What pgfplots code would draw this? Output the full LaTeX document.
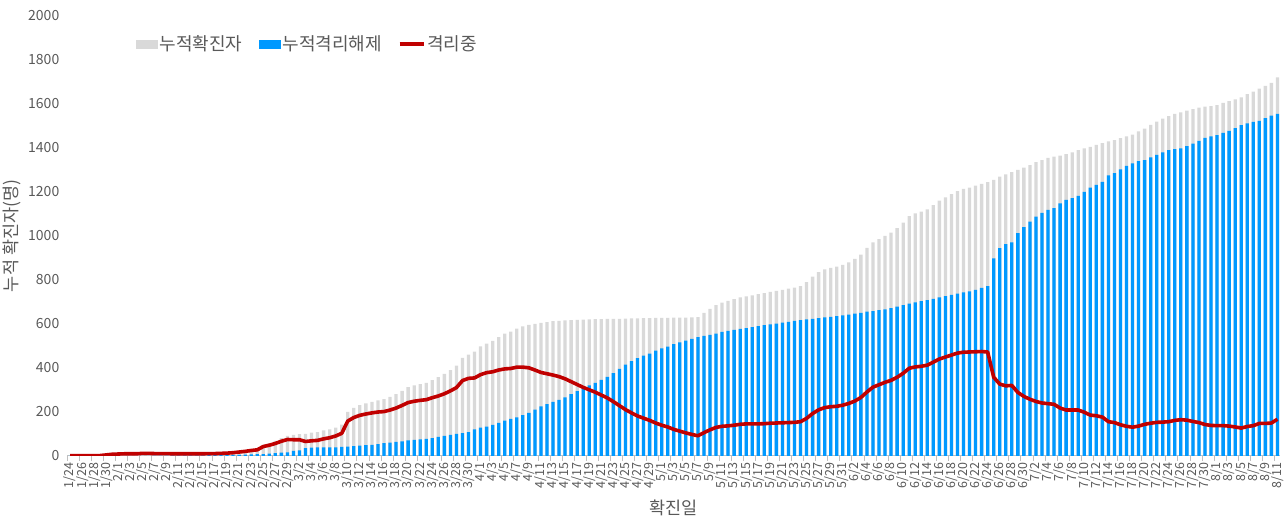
\documentclass[border=0pt]{standalone}
\usepackage{fontspec}
\setmainfont{Noto Sans CJK KR}
\usepackage{pgfplots}
\usepackage{pgfplotstable}
\pgfplotsset{compat=1.18}

\definecolor{cumgray}{HTML}{D9D9D9}
\definecolor{relblue}{HTML}{0099FF}
\definecolor{isored}{HTML}{C00000}
\definecolor{txtgray}{HTML}{595959}
\definecolor{axgray}{HTML}{BFBFBF}

% i = day index from 1/24, C = cumulative confirmed, R = cumulative released, Q = in isolation
\pgfplotstableread{
i C R Q
0 1 0 1
1 1 0 1
2 1 0 1
3 1 0 1
4 1 0 1
5 1 0 1
6 4 0 4
7 7 0 7
8 8 0 8
9 9 0 9
10 9 0 9
11 9 0 9
12 11 0 11
13 11 0 11
14 11 1 10
15 11 1 10
16 11 1 10
17 11 2 9
18 11 2 9
19 11 2 9
20 11 2 9
21 11 2 9
22 11 2 9
23 13 3 10
24 13 3 10
25 14 3 11
26 15 3 12
27 18 4 14
28 21 4 17
29 25 5 20
30 30 6 24
31 35 8 27
32 50 8 42
33 58 10 48
34 68 12 56
35 80 14 66
36 90 16 74
37 95 22 73
38 98 25 73
39 100 35 65
40 105 37 68
41 108 38 70
42 115 38 77
43 120 38 82
44 128 38 90
45 142 40 102
46 200 42 158
47 218 44 174
48 230 46 184
49 238 48 190
50 245 50 195
51 252 53 199
52 258 57 201
53 268 60 208
54 280 63 217
55 295 66 229
56 312 70 242
57 320 72 248
58 326 74 252
59 332 77 255
60 344 80 264
61 358 86 272
62 372 90 282
63 390 95 295
64 410 100 310
65 445 103 342
66 460 108 352
67 474 120 354
68 497 128 369
69 510 132 378
70 522 140 382
71 540 150 390
72 555 160 395
73 565 168 397
74 578 175 403
75 588 185 403
76 595 195 400
77 600 210 390
78 604 225 379
79 608 235 373
80 612 245 367
81 614 254 360
82 616 266 350
83 617 280 337
84 618 294 324
85 619 308 311
86 620 320 300
87 621 332 289
88 621 345 276
89 622 359 263
90 622 376 246
91 623 395 228
92 624 414 210
93 625 430 195
94 625 444 181
95 626 455 171
96 626 465 161
97 627 478 149
98 627 488 139
99 627 496 131
100 628 508 120
101 628 516 112
102 628 524 104
103 629 532 97
104 631 540 91
105 650 545 105
106 668 550 118
107 685 556 129
108 697 563 134
109 704 568 136
110 712 573 139
111 720 577 143
112 725 580 145
113 730 585 145
114 735 590 145
115 740 594 146
116 745 597 148
117 750 601 149
118 755 605 150
119 760 609 151
120 765 613 152
121 772 617 155
122 790 620 170
123 815 623 192
124 835 626 209
125 848 629 219
126 855 632 223
127 860 635 225
128 868 638 230
129 880 642 238
130 895 646 249
131 915 650 265
132 945 655 290
133 970 658 312
134 985 662 323
135 1000 666 334
136 1015 672 343
137 1035 678 357
138 1060 685 375
139 1090 692 398
140 1102 698 404
141 1110 703 407
142 1120 708 412
143 1140 714 426
144 1160 720 440
145 1175 726 449
146 1190 732 458
147 1204 737 467
148 1214 743 471
149 1220 748 472
150 1228 755 473
151 1237 763 474
152 1244 772 472
153 1255 898 357
154 1270 944 326
155 1280 962 318
156 1290 970 320
157 1300 1012 288
158 1310 1040 270
159 1322 1065 257
160 1335 1088 247
161 1345 1105 240
162 1355 1118 237
163 1360 1126 234
164 1365 1148 217
165 1372 1164 208
166 1380 1172 208
167 1390 1182 208
168 1398 1200 198
169 1405 1220 185
170 1414 1232 182
171 1422 1246 176
172 1430 1275 155
173 1436 1285 151
174 1444 1303 141
175 1452 1318 134
176 1460 1330 130
177 1475 1340 135
178 1488 1345 143
179 1505 1357 148
180 1520 1368 152
181 1533 1380 153
182 1545 1390 155
183 1555 1394 161
184 1562 1398 164
185 1570 1408 162
186 1576 1420 156
187 1583 1432 151
188 1588 1446 142
189 1590 1452 138
190 1595 1458 137
191 1605 1468 137
192 1613 1478 135
193 1621 1490 131
194 1630 1504 126
195 1645 1512 133
196 1656 1519 137
197 1670 1523 147
198 1682 1535 147
199 1696 1547 149
200 1721 1555 166
}\seoul

\begin{document}
\begin{tikzpicture}
\begin{axis}[
    width=1214pt, height=440pt,
    scale only axis,
    xmin=-0.5, xmax=200.5,
    ymin=0, ymax=2000,
    ytick={0,200,...,2000},
    axis x line*=bottom, axis y line*=left,
    y axis line style={draw=none},
    x axis line style={axgray, line width=0.8pt},
    ytick style={draw=none},
    xtick={0,2,...,200},
    major x tick style={draw=none},
    minor xtick={-0.5,1.5,...,199.5},
    minor x tick style={axgray, line width=0.8pt},
    minor tick length=5pt,
    tick align=outside,
    xticklabels={1/24,1/26,1/28,1/30,2/1,2/3,2/5,2/7,2/9,2/11,2/13,2/15,2/17,2/19,2/21,2/23,2/25,2/27,2/29,3/2,3/4,3/6,3/8,3/10,3/12,3/14,3/16,3/18,3/20,3/22,3/24,3/26,3/28,3/30,4/1,4/3,4/5,4/7,4/9,4/11,4/13,4/15,4/17,4/19,4/21,4/23,4/25,4/27,4/29,5/1,5/3,5/5,5/7,5/9,5/11,5/13,5/15,5/17,5/19,5/21,5/23,5/25,5/27,5/29,5/31,6/2,6/4,6/6,6/8,6/10,6/12,6/14,6/16,6/18,6/20,6/22,6/24,6/26,6/28,6/30,7/2,7/4,7/6,7/8,7/10,7/12,7/14,7/16,7/18,7/20,7/22,7/24,7/26,7/28,7/30,8/1,8/3,8/5,8/7,8/9,8/11},
    x tick label style={rotate=90, anchor=east, inner sep=2.5pt,
        font=\fontsize{12.5}{12.5}\selectfont, text=txtgray},
    y tick label style={font=\fontsize{14}{14}\selectfont, text=txtgray},
    /pgf/number format/assume math mode=true,
    /pgf/number format/1000 sep={},
    xlabel={확진일},
    ylabel={누적 확진자(명)},
    label style={font=\fontsize{17.5}{17.5}\selectfont, text=txtgray},
    xlabel style={yshift=-5pt},
    legend style={at={(0.054,0.936)}, anchor=west, draw=none, fill=none,
        font=\fontsize{18}{18}\selectfont, text=txtgray,
        /tikz/every even column/.append style={column sep=14pt}},
    legend columns=3,
]
\addplot[ybar, bar width=3.3pt, bar shift=0pt, fill=cumgray, draw=none,
    legend image code/.code={\fill[cumgray] (0pt,-4.5pt) rectangle (22pt,4.5pt);}]
    table[x=i, y=C] {\seoul};
\addlegendentry{누적확진자}
\addplot[ybar, bar width=3.3pt, bar shift=0pt, fill=relblue, draw=none,
    legend image code/.code={\fill[relblue] (0pt,-4.5pt) rectangle (22pt,4.5pt);}]
    table[x=i, y=R] {\seoul};
\addlegendentry{누적격리해제}
\addplot[isored, line width=3.6pt, line join=round, mark=none,
    legend image code/.code={\draw[isored, line width=3.6pt] (0pt,0pt) -- (24pt,0pt);}]
    table[x=i, y=Q] {\seoul};
\addlegendentry{격리중}
\end{axis}
% a little blank room above the top tick label, as in the reference
\path ([yshift=16pt]current axis.north);
\end{tikzpicture}
\end{document}
